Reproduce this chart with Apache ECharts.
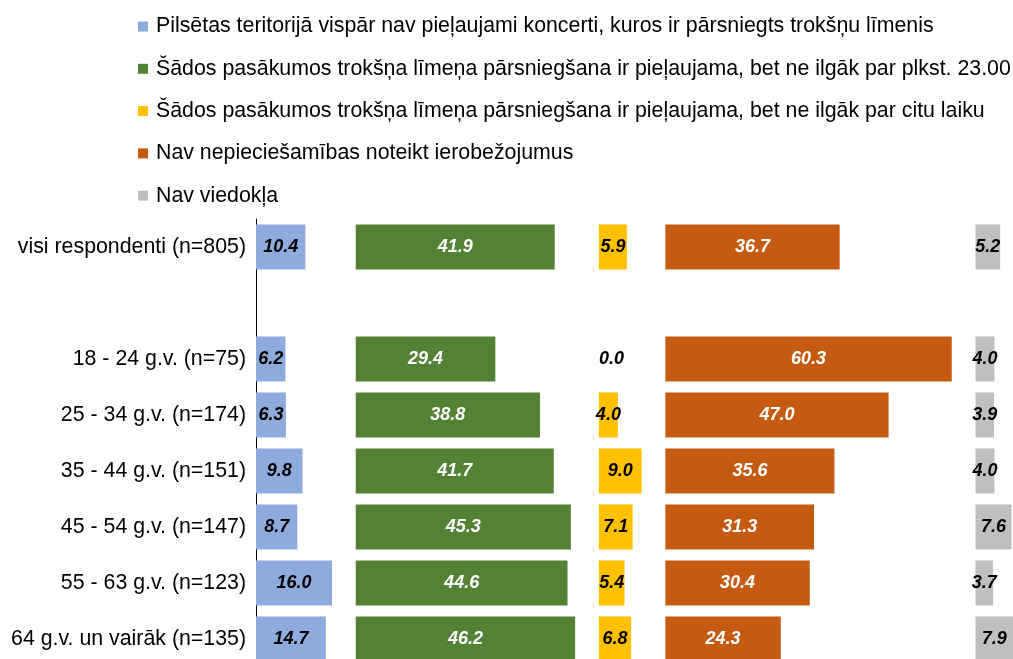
<!DOCTYPE html>
<html>
<head>
<meta charset="utf-8">
<script src="https://cdn.jsdelivr.net/npm/echarts@6/dist/echarts.min.js"></script>
<style>html,body{margin:0;padding:0;background:#fff;overflow:hidden;width:1013px;height:659px}#c{width:1013px;height:672px}</style>
</head>
<body>
<div id="c"></div>
<script>
const categories = ['visi respondenti (n=805)', '', '18 - 24 g.v. (n=75)', '25 - 34 g.v. (n=174)', '35 - 44 g.v. (n=151)', '45 - 54 g.v. (n=147)', '55 - 63 g.v. (n=123)', '64 g.v. un vairāk (n=135)'];
const seriesNames = [
  'Pilsētas teritorijā vispār nav pieļaujami koncerti, kuros ir pārsniegts trokšņu līmenis',
  'Šādos pasākumos trokšņa līmeņa pārsniegšana ir pieļaujama, bet ne ilgāk par plkst. 23.00',
  'Šādos pasākumos trokšņa līmeņa pārsniegšana ir pieļaujama, bet ne ilgāk par citu laiku',
  'Nav nepieciešamības noteikt ierobežojumus',
  'Nav viedokļa'
];
const vispar   = [10.4, null, 6.2, 6.3, 9.8, 8.7, 16.0, 14.7];
const lidz23   = [41.9, null, 29.4, 38.8, 41.7, 45.3, 44.6, 46.2];
const citu     = [5.9, null, 0.0, 4.0, 9.0, 7.1, 5.4, 6.8];
const navNepiec = [36.7, null, 60.3, 47.0, 35.6, 31.3, 30.4, 24.3];
const navViedok = [5.2, null, 4.0, 3.9, 4.0, 7.6, 3.7, 7.9];

const groups = [vispar, lidz23, citu, navNepiec, navViedok];
const colors = ['#8FAADC', '#548235', '#FFC000', '#C55A11', '#BFBFBF'];
const labelColors = ['#000', '#fff', '#000', '#fff', '#000'];
const gap = 5;
const FONT = '"Liberation Sans", Arial, sans-serif';

const maxOf = a => Math.max(...a.filter(v => v != null));
let totalMax = 0;
groups.forEach((g, k) => { totalMax += maxOf(g) + (k < groups.length - 1 ? gap : 0); });

const series = [];
groups.forEach((g, k) => {
  if (k > 0) {
    const prev = groups[k - 1];
    const pm = maxOf(prev);
    series.push({
      type: 'bar', stack: 'all', silent: true, barWidth: 45,
      itemStyle: { color: 'transparent' }, label: { show: false },
      emphasis: { disabled: true },
      data: prev.map(v => v == null ? '-' : pm - v + gap)
    });
  }
  series.push({
    name: seriesNames[k], type: 'bar', stack: 'all', barWidth: 45,
    itemStyle: { color: colors[k] },
    label: {
      show: true, position: 'inside', color: labelColors[k],
      fontFamily: FONT, fontSize: 18, fontWeight: 'bold', fontStyle: 'italic',
      formatter: p => Number(p.value).toFixed(1)
    },
    emphasis: { disabled: true },
    data: g.map(v => v == null ? '-' : (v === 0 ? { value: 0, label: { position: 'right', distance: 0 } } : v))
  });
});

const chart = echarts.init(document.getElementById('c'));
chart.setOption({
  animation: false,
  legend: {
    orient: 'vertical', left: 133, top: 11, itemWidth: 10, itemHeight: 10, itemGap: 21.3,
    icon: 'rect', data: seriesNames, selectedMode: false,
    textStyle: { fontFamily: FONT, fontSize: 21.33, color: '#000', lineHeight: 21, padding: [0, 0, 0, 3] }
  },
  grid: { left: 256, top: 219, width: 757, height: 448, containLabel: false },
  xAxis: { type: 'value', min: 0, max: totalMax, show: false, splitLine: { show: false } },
  yAxis: {
    type: 'category', inverse: true, data: categories,
    axisLine: { show: true, lineStyle: { color: '#000', width: 1 } },
    axisTick: { show: false },
    axisLabel: { margin: 10, color: '#000', fontFamily: FONT, fontSize: 21.33 }
  },
  series: series
});
</script>
</body>
</html>
